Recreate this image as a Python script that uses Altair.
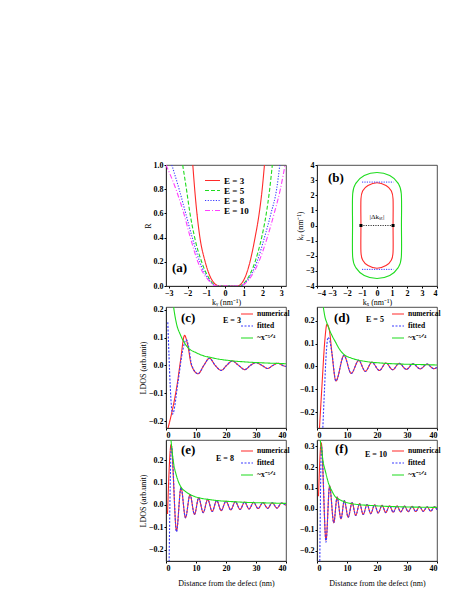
import altair as alt
import pandas as pd

FONT = "Liberation Serif"
RED, GREEN, BLUE, MAGENTA = "#ff2a2a", "#1fdc1f", "#3a3aff", "#ff40ff"

# ---------------- panel (a): R vs k_y ----------------
a_names = ["E = 3", "E = 5", "E = 8", "E = 10"]
a_k_e3 = [-1.72, -1.62, -1.5, -1.34, -1.06, -0.7, -0.3, 0.2, 0.65, 1.0, 1.33, 1.6, 1.82, 1.98, 2.1]
a_R_e3 = [1.0, 0.8, 0.6, 0.4, 0.2, 0.05, 0.0, 0.0, 0.0, 0.05, 0.2, 0.4, 0.6, 0.8, 1.0]
a_k_e5 = [-2.26, -2.06, -1.87, -1.62, -1.25, -0.8, -0.4, 0.2, 0.75, 1.15, 1.6, 1.95, 2.2, 2.38, 2.52]
a_R_e5 = [1.0, 0.8, 0.6, 0.4, 0.2, 0.05, 0.0, 0.0, 0.0, 0.05, 0.2, 0.4, 0.6, 0.8, 1.0]
a_k_e8 = [-2.84, -2.45, -2.1, -1.75, -1.35, -0.85, -0.45, 0.2, 0.8, 1.2, 1.7, 2.1, 2.45, 2.75, 2.92]
a_R_e8 = [1.0, 0.8, 0.6, 0.4, 0.2, 0.05, 0.0, 0.0, 0.0, 0.05, 0.2, 0.4, 0.6, 0.8, 1.0]
a_k_e10 = [-3.15, -2.62, -2.2, -1.85, -1.45, -0.9, -0.45, 0.2, 0.8, 1.25, 1.8, 2.25, 2.62, 2.95, 3.2]
a_R_e10 = [1.0, 0.8, 0.6, 0.4, 0.2, 0.05, 0.0, 0.0, 0.0, 0.05, 0.2, 0.4, 0.6, 0.8, 1.0]

# ---------------- panel (b): constant-energy contours ----------------
b_red_x = [0.0, 0.6, 0.95, 1.07, 1.07, 1.07, 0.95, 0.6, 0.0, -0.6, -0.95, -1.07, -1.07, -1.07, -0.95, -0.6]
b_red_y = [2.83, 2.65, 2.3, 1.75, 0.0, -1.75, -2.3, -2.65, -2.83, -2.65, -2.3, -1.75, 0.0, 1.75, 2.3, 2.65]
b_grn_x = [0.0, 0.85, 1.4, 1.62, 1.63, 1.62, 1.4, 0.85, 0.0, -0.85, -1.4, -1.62, -1.63, -1.62, -1.4, -0.85]
b_grn_y = [3.5, 3.3, 2.8, 2.1, 0.0, -2.1, -2.8, -3.3, -3.5, -3.3, -2.8, -2.1, 0.0, 2.1, 2.8, 3.3]
b_blue_x = [-1.0, 1.1, -1.0, 1.1]
b_blue_y = [2.87, 2.87, -2.9, -2.9]
b_blue_id = ["top", "top", "bottom", "bottom"]
b_dk_x = [-1.07, 1.07]
b_dk_y = [0.0, 0.0]

# ---------------- panels (c)-(f): LDOS ----------------
c_num_x = [0.3, 1.5, 2.7, 3.7, 4.8, 6.2, 7.2, 8.5, 10.7, 12.6, 14.5, 16.4, 18.4, 20.2, 22.1, 24.2, 26.3, 28.1, 30.0, 32.0, 33.9, 35.6, 37.3, 38.9, 40.0]
c_num_y = [-0.24, -0.19, -0.13, -0.07, 0.014, 0.108, 0.075, 0.0, -0.03, 0.0, 0.026, 0.0, -0.018, 0.0, 0.016, 0.0, -0.015, 0.0, 0.01, 0.0, -0.011, 0.0, 0.008, 0.0, -0.004]
c_fit_x = [0.6, 2.2, 4.0, 5.5, 6.8, 7.4, 8.6, 10.7, 12.6, 14.5, 16.4, 18.4, 20.2, 22.1, 24.2, 26.3, 28.1, 30.0, 32.0, 33.9, 35.6, 37.3, 38.9, 40.0]
c_fit_y = [0.155, -0.175, -0.06, 0.05, 0.093, 0.075, 0.0, -0.03, 0.0, 0.026, 0.0, -0.018, 0.0, 0.016, 0.0, -0.015, 0.0, 0.01, 0.0, -0.011, 0.0, 0.008, 0.0, -0.004]
c_env_x = [2.0, 2.6, 3.5, 4.8, 7.0, 10.4, 16.0, 21.6, 27.2, 32.7, 40.0]
c_env_y = [0.26, 0.205, 0.15, 0.11, 0.068, 0.044, 0.026, 0.017, 0.012, 0.009, 0.006]

d_num_x = [0.7, 1.7, 2.6, 3.3, 4.1, 5.0, 6.3, 9.0, 11.4, 13.9, 16.1, 18.3, 20.8, 23.0, 25.2, 27.4, 29.8, 32.0, 34.4, 36.7, 38.9, 40.0]
d_num_y = [-0.3, -0.075, 0.112, 0.184, 0.16, 0.055, -0.064, 0.048, -0.031, 0.026, -0.022, 0.018, -0.018, 0.015, -0.015, 0.013, -0.013, 0.011, -0.011, 0.01, -0.01, -0.005]
d_fit_x = [1.85, 2.5, 3.0, 3.7, 4.3, 5.0, 6.3, 9.0, 11.4, 13.9, 16.1, 18.3, 20.8, 23.0, 25.2, 27.4, 29.8, 32.0, 34.4, 36.7, 38.9, 40.0]
d_fit_y = [-0.3, -0.1, 0.04, 0.127, 0.11, 0.055, -0.064, 0.048, -0.031, 0.026, -0.022, 0.018, -0.018, 0.015, -0.015, 0.013, -0.013, 0.011, -0.011, 0.01, -0.01, -0.005]
d_env_x = [2.1, 2.6, 3.3, 4.0, 5.0, 6.1, 7.5, 9.0, 11.5, 14.0, 17.0, 22.0, 28.0, 34.0, 40.0]
d_env_y = [0.26, 0.22, 0.19, 0.165, 0.135, 0.108, 0.075, 0.052, 0.036, 0.027, 0.02, 0.014, 0.01, 0.008, 0.006]

e_num_x = [0.5, 1.7, 3.5, 5.0, 6.5, 8.0, 9.5, 10.9, 12.4, 13.9, 15.4, 16.9, 18.4, 20.0, 21.6, 23.1, 24.7, 26.2, 27.7, 29.2, 30.7, 32.3, 33.9, 35.4, 37.0, 38.5, 40.0]
e_num_y = [-0.04, 0.27, -0.115, 0.078, -0.057, 0.046, -0.042, 0.032, -0.034, 0.025, -0.029, 0.02, -0.025, 0.017, -0.022, 0.015, -0.02, 0.013, -0.018, 0.012, -0.016, 0.011, -0.015, 0.01, -0.014, 0.009, -0.002]
e_fit_x = [1.0, 1.8, 3.5, 5.0, 6.5, 8.0, 9.5, 10.9, 12.4, 13.9, 15.4, 16.9, 18.4, 20.0, 21.6, 23.1, 24.7, 26.2, 27.7, 29.2, 30.7, 32.3, 33.9, 35.4, 37.0, 38.5, 40.0]
e_fit_y = [-0.3, 0.265, -0.12, 0.078, -0.057, 0.046, -0.042, 0.032, -0.034, 0.025, -0.029, 0.02, -0.025, 0.017, -0.022, 0.015, -0.02, 0.013, -0.018, 0.012, -0.016, 0.011, -0.015, 0.01, -0.014, 0.009, -0.002]
e_env_x = [1.6, 1.8, 2.5, 3.5, 5.0, 6.5, 8.0, 11.0, 14.0, 17.0, 22.0, 28.0, 34.0, 40.0]
e_env_y = [0.3, 0.27, 0.19, 0.13, 0.08, 0.06, 0.047, 0.032, 0.025, 0.02, 0.015, 0.011, 0.009, 0.007]

f_num_x = [0.5, 1.4, 3.0, 4.2, 5.6, 6.7, 8.0, 9.1, 10.4, 11.7, 12.9, 14.2, 15.4, 16.7, 17.9, 19.2, 20.4, 21.7, 22.9, 24.2, 25.4, 26.7, 27.9, 29.2, 30.4, 31.7, 32.9, 34.2, 35.4, 36.7, 37.9, 39.2, 40.0]
f_num_y = [0.06, 0.317, -0.15, 0.11, -0.067, 0.056, -0.048, 0.04, -0.04, 0.03, -0.032, 0.025, -0.027, 0.021, -0.023, 0.019, -0.02, 0.017, -0.018, 0.015, -0.016, 0.014, -0.015, 0.013, -0.014, 0.012, -0.013, 0.011, -0.012, 0.01, -0.011, 0.01, -0.004]
f_fit_x = [0.9, 1.5, 3.0, 4.2, 5.6, 6.7, 8.0, 9.1, 10.4, 11.7, 12.9, 14.2, 15.4, 16.7, 17.9, 19.2, 20.4, 21.7, 22.9, 24.2, 25.4, 26.7, 27.9, 29.2, 30.4, 31.7, 32.9, 34.2, 35.4, 36.7, 37.9, 39.2, 40.0]
f_fit_y = [-0.3, 0.3, -0.16, 0.11, -0.067, 0.056, -0.048, 0.04, -0.04, 0.03, -0.032, 0.025, -0.027, 0.021, -0.023, 0.019, -0.02, 0.017, -0.018, 0.015, -0.016, 0.014, -0.015, 0.013, -0.014, 0.012, -0.013, 0.011, -0.012, 0.01, -0.011, 0.01, -0.004]
f_env_x = [1.0, 1.1, 1.5, 2.0, 2.8, 3.9, 5.0, 6.1, 7.5, 9.4, 12.0, 14.0, 18.0, 23.0, 30.0, 40.0]
f_env_y = [0.36, 0.33, 0.29, 0.23, 0.18, 0.12, 0.085, 0.058, 0.045, 0.032, 0.024, 0.02, 0.016, 0.012, 0.009, 0.007]

LDOS_NAMES = ["numerical", "fitted", "~x⁻⁵ᐟ⁴"]
LDOS_COLORS = [RED, BLUE, GREEN]
LDOS_DASH = [[1, 0], [2, 1.5], [1, 0]]

W, H = 120, 121


def lab(text, x, y, size=13, weight="bold", align="left"):
    return alt.Chart(pd.DataFrame({"t": [text]})).mark_text(
        font=FONT, fontSize=size, fontWeight=weight, align=align, baseline="middle", color="black"
    ).encode(x=alt.value(x), y=alt.value(y), text="t:N")


# panel (a): one layer (and one single-entry legend) per energy
a_colors = [RED, GREEN, BLUE, MAGENTA]
a_dashes = [[1, 0], [4, 2], [1.2, 1.5], [5, 2, 1, 2]]
ax = alt.X("k:Q", scale=alt.Scale(domain=[-3.15, 3.25], nice=False, zero=False),
           axis=alt.Axis(values=[-3, -2, -1, 0, 1, 2, 3], format="d", title="kᵧ (nm⁻¹)"))
ay = alt.Y("R:Q", scale=alt.Scale(domain=[0, 1], nice=False),
           axis=alt.Axis(values=[0, 0.2, 0.4, 0.6, 0.8, 1.0], format=".1f", title="R"))
a_layers = []
for i, (name, ks, rs) in enumerate(zip(a_names, [a_k_e3, a_k_e5, a_k_e8, a_k_e10], [a_R_e3, a_R_e5, a_R_e8, a_R_e10])):
    df = pd.DataFrame({"k": ks, "R": rs, "E": name})
    leg = alt.Legend(title=None, orient="none", legendX=38, legendY=7 + 10 * i, symbolType="stroke",
                     symbolSize=225, symbolStrokeWidth=1.2, symbolStrokeColor=a_colors[i],
                     labelFont=FONT, labelFontWeight="bold", labelFontSize=9, padding=0, labelOffset=3)
    a_layers.append(alt.Chart(df).mark_line(strokeWidth=1.1, interpolate="monotone", clip=True,
                                            color=a_colors[i]).encode(
        x=ax, y=ay,
        strokeDash=alt.StrokeDash("E:N", scale=alt.Scale(domain=[name], range=[a_dashes[i]]), legend=leg),
    ))
panel_a = alt.layer(*a_layers, lab("(a)", 6, 103)).resolve_scale(
    strokeDash="independent").resolve_legend(strokeDash="independent").properties(width=W, height=H)

# panel (b)
bx = alt.X("x:Q", scale=alt.Scale(domain=[-4, 4], nice=False),
           axis=alt.Axis(values=list(range(-4, 5)), format="d", title="kₓ (nm⁻¹)"))
by = alt.Y("y:Q", scale=alt.Scale(domain=[-4, 4], nice=False),
           axis=alt.Axis(values=list(range(-4, 5)), format="d", title="kᵧ (nm⁻¹)"))
b_red = pd.DataFrame({"x": b_red_x, "y": b_red_y, "o": range(len(b_red_x))})
b_grn = pd.DataFrame({"x": b_grn_x, "y": b_grn_y, "o": range(len(b_grn_x))})
b_blu = pd.DataFrame({"x": b_blue_x, "y": b_blue_y, "g": b_blue_id})
b_dk = pd.DataFrame({"x": b_dk_x, "y": b_dk_y})
b_layers = [
    alt.Chart(b_grn).mark_line(color=GREEN, strokeWidth=1.1, interpolate="cardinal-closed").encode(x=bx, y=by, order="o:Q"),
    alt.Chart(b_red).mark_line(color=RED, strokeWidth=1.1, interpolate="cardinal-closed").encode(x=bx, y=by, order="o:Q"),
    alt.Chart(b_blu).mark_line(color=BLUE, strokeWidth=1, strokeDash=[1.2, 1.2]).encode(x=bx, y=by, detail="g:N"),
    alt.Chart(b_dk).mark_line(color="black", strokeWidth=0.8, strokeDash=[1.2, 1.2]).encode(x=bx, y=by),
    alt.Chart(b_dk).mark_square(color="black", size=9, opacity=1).encode(x=bx, y=by),
    alt.Chart(pd.DataFrame({"x": [0.0], "y": [0.55], "t": ["|Δkₛₜ|"]})).mark_text(
        font=FONT, fontSize=7, color="black").encode(x=bx, y=by, text="t:N"),
    lab("(b)", 11, 13),
]
panel_b = alt.layer(*b_layers).properties(width=W, height=H)


def ldos(series, ydom, yvals, letter, letter_xy, etext, e_xy, leg_xy, ytitle, xtitle):
    leg = alt.Legend(title=None, orient="none", legendX=leg_xy[0], legendY=leg_xy[1], symbolType="stroke",
                     symbolSize=144, symbolStrokeWidth=1.1, labelFont=FONT, labelFontWeight="bold",
                     labelFontSize=7.5, rowPadding=1, padding=0, labelOffset=3)
    xaxis = dict(values=[0, 10, 20, 30, 40], format="d", title=xtitle)
    if xtitle:
        xaxis["titlePadding"] = 7
    x = alt.X("x:Q", scale=alt.Scale(domain=[0, 40], nice=False), axis=alt.Axis(**xaxis))
    y = alt.Y("y:Q", scale=alt.Scale(domain=ydom, nice=False, zero=False),
              axis=alt.Axis(values=yvals, format=".1f", title=ytitle))
    layers = []
    for name, (xs, ys) in zip(LDOS_NAMES, series):
        df = pd.DataFrame({"x": xs, "y": ys, "s": name})
        layers.append(alt.Chart(df).mark_line(strokeWidth=1.1, interpolate="monotone", clip=True).encode(
            x=x, y=y,
            color=alt.Color("s:N", scale=alt.Scale(domain=LDOS_NAMES, range=LDOS_COLORS), legend=leg),
            strokeDash=alt.StrokeDash("s:N", scale=alt.Scale(domain=LDOS_NAMES, range=LDOS_DASH), legend=leg),
        ))
    layers.append(lab(letter, letter_xy[0], letter_xy[1]))
    layers.append(lab(etext, e_xy[0], e_xy[1], size=8))
    return alt.layer(*layers).properties(width=W, height=H)


panel_c = ldos([(c_num_x, c_num_y), (c_fit_x, c_fit_y), (c_env_x, c_env_y)], [-0.225, 0.21],
               [-0.2, -0.1, 0.0, 0.1, 0.2], "(c)", (15, 11), "E = 3", (57, 14), (74, 0),
               "LDOS (arb.unit)", None)
panel_d = ldos([(d_num_x, d_num_y), (d_fit_x, d_fit_y), (d_env_x, d_env_y)], [-0.27, 0.26],
               [-0.2, -0.1, 0.0, 0.1, 0.2], "(d)", (17, 11), "E = 5", (49, 13), (74, 0),
               None, None)
panel_e = ldos([(e_num_x, e_num_y), (e_fit_x, e_fit_y), (e_env_x, e_env_y)], [-0.25, 0.29],
               [-0.2, -0.1, 0.0, 0.1, 0.2], "(e)", (15, 10), "E = 8", (50, 19), (74, 4),
               "LDOS (arb.unit)", "Distance from the defect (nm)")
panel_f = ldos([(f_num_x, f_num_y), (f_fit_x, f_fit_y), (f_env_x, f_env_y)], [-0.25, 0.33],
               [-0.2, -0.1, 0.0, 0.1, 0.2, 0.3], "(f)", (18, 9), "E = 10", (48, 15), (74, 4),
               None, "Distance from the defect (nm)")

chart = alt.concat(panel_a, panel_b, panel_c, panel_d, panel_e, panel_f, columns=2,
                   spacing={"row": -2, "column": 5}).resolve_scale(
    color="independent", strokeDash="independent", x="independent", y="independent"
).resolve_legend(color="independent", strokeDash="independent").properties(
    padding={"left": 131, "top": 152, "right": 4, "bottom": 4}
).configure(font=FONT).configure_view(stroke="#222", strokeWidth=0.8).configure_axis(
    labelFont=FONT, labelFontWeight="bold", labelFontSize=8, labelColor="black",
    titleFont=FONT, titleFontWeight="normal", titleFontSize=8, titleColor="black",
    tickColor="black", tickSize=2, domainColor="#222", domainWidth=0.8, labelPadding=1,
    titlePadding=1, grid=False
)

chart.save("out.html", embed_options={"renderer": "svg", "actions": False})
